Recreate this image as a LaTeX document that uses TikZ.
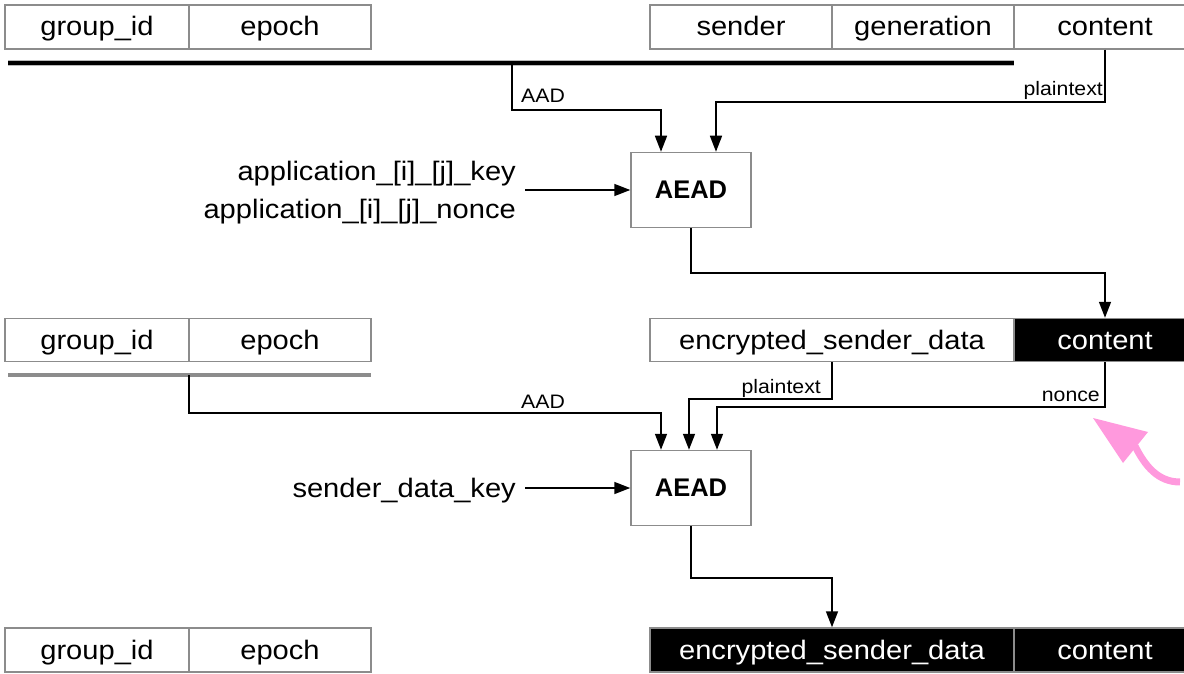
\documentclass[tikz,border=0pt]{standalone}
\usepackage{fontspec}
\setmainfont{Liberation Sans}[FakeStretch=1.09]
\newfontfamily\aeadfont{Liberation Sans}
\usetikzlibrary{arrows.meta}
\definecolor{boxgray}{RGB}{140,140,140}
\definecolor{pinkarrow}{RGB}{255,153,221}
\begin{document}
\begin{tikzpicture}[x=1pt,y=-1pt,
  cell/.style={draw=boxgray, line width=1.5pt, minimum height=44pt, inner sep=0pt,
    font=\fontsize{26.7}{30}\selectfont, text height=22pt, text depth=4pt},
  blk/.style={cell, fill=black, text=white},
  aead/.style={draw=boxgray, line width=1.5pt, minimum width=120pt, minimum height=75pt,
    inner sep=0pt, font=\aeadfont\bfseries\fontsize{25.5}{30}\selectfont},
  lbl/.style={inner sep=0pt, font=\fontsize{26.7}{38}\selectfont},
  small/.style={inner sep=0pt, font=\fontsize{19.5}{22}\selectfont},
  arr/.style={line width=1.6pt, -{Triangle[length=16pt,width=12pt]}},
  conn/.style={line width=1.6pt}]
\useasboundingbox (0,0) rectangle (1184,674);

% Row 1
\node[cell, minimum width=184pt] (g1) at (97,27) {group\_id};
\node[cell, minimum width=182pt] (e1) at (280,27) {epoch};
\node[cell, minimum width=182pt] (s1) at (741,27) {sender};
\node[cell, minimum width=182pt] (gen1) at (923,27) {generation};
\node[cell, minimum width=182pt] (c1) at (1105,27) {content};
\coordinate (bar1L) at (8,63);
\coordinate (bar1R) at (1014,63);
\coordinate (tap1) at (512,63);
\draw[line width=5.5pt, boxgray!60] (bar1L) -- (bar1R);
\draw[line width=4.5pt] (bar1L) -- (bar1R);

% AEAD 1
\node[aead] (aead1) at (691,190) {AEAD};
\node[lbl, align=right, anchor=east] (keys1) at (516,193) {application\_[i]\_[j]\_key\\application\_[i]\_[j]\_nonce};
\draw[arr] ([xshift=9pt,yshift=3pt]keys1.east) -- (aead1.west);
\draw[arr] (tap1) -- (512,110) -| ([xshift=-30pt]aead1.north);
\node[small, anchor=base west] (aadl1) at (521,103) {AAD};
\draw[arr] (c1.south) -- ++(0,52) -| ([xshift=25pt]aead1.north);
\node[small, anchor=base east] (ptl1) at (1103,96) {plaintext};

% Row 2
\node[cell, minimum width=184pt, minimum height=43pt] (g2) at (97,340) {group\_id};
\node[cell, minimum width=182pt, minimum height=43pt] (e2) at (280,340) {epoch};
\node[cell, minimum width=364pt, minimum height=43pt] (esd2) at (832,340) {encrypted\_sender\_data};
\node[blk, minimum width=182pt, minimum height=43pt] (c2) at (1105,340) {content};
\draw[arr] (aead1.south) -- ++(0,45) -| (c2.north);
\coordinate (bar2L) at (8,375);
\coordinate (bar2R) at (371,375);
\coordinate (tap2) at (189,375);
\draw[line width=3.5pt, boxgray] (bar2L) -- (bar2R);

% AEAD 2
\node[aead] (aead2) at (691,488) {AEAD};
\node[lbl, anchor=east] (sdk) at (516,491) {sender\_data\_key};
\draw[arr] ([xshift=9pt,yshift=3pt]sdk.east) -- (aead2.west);
\draw[arr] (tap2) -- (189,413) -| ([xshift=-30pt]aead2.north);
\node[small, anchor=base west] (aadl2) at (521,408) {AAD};
\draw[arr] (esd2.south) -- ++(0,37) -| ([xshift=-2pt]aead2.north);
\node[small, anchor=base east] (ptl2) at (821,393) {plaintext};
\draw[arr] (c2.south) -- ++(0,45) -| ([xshift=26pt]aead2.north);
\node[small, anchor=base east] (nl2) at (1100,401) {nonce};

% Row 3
\node[cell, minimum width=184pt] (g3) at (97,650) {group\_id};
\node[cell, minimum width=182pt] (e3) at (280,650) {epoch};
\node[blk, minimum width=364pt] (esd3) at (832,650) {encrypted\_sender\_data};
\node[blk, minimum width=182pt] (c3) at (1105,650) {content};
\draw[arr] (aead2.south) -- ++(0,52) -| (esd3.north);

% Pink annotation arrow
\draw[pinkarrow, line width=7pt] (1180,482) .. controls (1158,482) and (1145,466) .. (1135,446);
\fill[pinkarrow] (1093,418) -- (1148,432) -- (1123,463) -- cycle;
\end{tikzpicture}
\end{document}
